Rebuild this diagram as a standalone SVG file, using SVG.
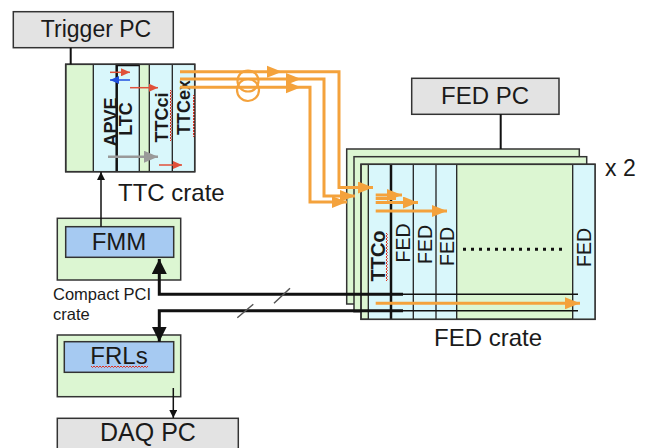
<svg xmlns="http://www.w3.org/2000/svg" width="651" height="448" viewBox="0 0 651 448">
<style>
.box{stroke:#333;stroke-width:1.5}
.pc{fill:#e3e3e3}
.gr{fill:#dcf6d2}
.cy{fill:#d9f7fb}
.bl{fill:#a6caf2}
.ln{stroke:#222;stroke-width:1.3;fill:none}
.t{font-family:"Liberation Sans",Arial,sans-serif;fill:#1a1a1a}
.b{font-weight:bold}
.or{fill:none;stroke:#f4a23c;stroke-width:3}
.orh{fill:#f4a23c}
.k{fill:none;stroke:#111;stroke-width:3}
.kt{fill:none;stroke:#111;stroke-width:1.5}
.sq{fill:none;stroke:#e03020;stroke-width:1}
</style>
<defs>
<marker id="ka" markerUnits="userSpaceOnUse" markerWidth="8" markerHeight="8" refX="8" refY="4" orient="auto"><path d="M0,0 L8,4 L0,8 z" fill="#111"/></marker>
<marker id="ra" markerUnits="userSpaceOnUse" markerWidth="9" markerHeight="8" refX="9" refY="4" orient="auto"><path d="M0,0 L9,4 L0,8 z" fill="#e0503a"/></marker>
<marker id="ba" markerUnits="userSpaceOnUse" markerWidth="9" markerHeight="8" refX="9" refY="4" orient="auto"><path d="M0,0 L9,4 L0,8 z" fill="#2050e0"/></marker>
<marker id="ga" markerUnits="userSpaceOnUse" markerWidth="14" markerHeight="12" refX="14" refY="6" orient="auto"><path d="M0,0 L14,6 L0,12 z" fill="#999"/></marker>
<marker id="oa" markerUnits="userSpaceOnUse" markerWidth="15" markerHeight="12" refX="15" refY="6" orient="auto"><path d="M0,0 L15,6 L0,12 z" fill="#f4a23c"/></marker>
<marker id="kb" markerUnits="userSpaceOnUse" markerWidth="15" markerHeight="15" refX="15" refY="7.5" orient="auto"><path d="M0,0 L15,7.5 L0,15 z" fill="#111"/></marker>
</defs>
<rect width="651" height="448" fill="#fff"/>

<g id="trigger-pc">
<rect class="box pc" x="13.3" y="11.7" width="160" height="36"/>
<text class="t" x="96" y="37" font-size="23" text-anchor="middle">Trigger PC</text>
</g>

<g id="ttc-crate">
<rect class="box gr" x="65.7" y="64.3" width="129" height="107.4"/>
<rect class="cy" x="93.3" y="65" width="23.4" height="106"/>
<rect class="cy" x="116.7" y="65" width="22.6" height="106"/>
<rect class="cy" x="149.3" y="65" width="23" height="106"/>
<rect class="cy" x="172.3" y="65" width="22.4" height="106"/>
<path class="ln" d="M93.3,64.3V171.7 M139.3,64.3V171.7 M149.3,64.3V171.7 M172.3,64.3V171.7"/>
<path fill="none" stroke="#111" stroke-width="2.5" d="M116.7,171.7V65 H139.3"/>
<rect class="box" fill="none" x="65.7" y="64.3" width="129" height="107.4"/>
<text class="t b" font-size="18" text-anchor="middle" transform="translate(117,122) rotate(-90)">APVE</text>
<text class="t b" font-size="18" text-anchor="middle" transform="translate(131.5,119) rotate(-90)">LTC</text>
<text class="t b" font-size="18" text-anchor="middle" transform="translate(168,117.5) rotate(-90)">TTCci</text>
<text class="t b" font-size="18" text-anchor="middle" transform="translate(189.5,107.5) rotate(-90)">TTCex</text>
<path class="sq" d="M170,90 l1.5,1.5 -1.5,1.5 1.5,1.5 -1.5,1.5 1.5,1.5 -1.5,1.5 1.5,1.5 -1.5,1.5 1.5,1.5 -1.5,1.5 1.5,1.5 -1.5,1.5 1.5,1.5 -1.5,1.5 1.5,1.5 -1.5,1.5 1.5,1.5 -1.5,1.5 1.5,1.5 -1.5,1.5 1.5,1.5 -1.5,1.5 1.5,1.5 -1.5,1.5 1.5,1.5 -1.5,1.5 1.5,1.5 -1.5,1.5 1.5,1.5 -1.5,1.5 1.5,1.5 -1.5,1.5 1.5,1.5 -1.5,1.5"/>
<path class="sq" d="M193,95 l1.5,1.5 -1.5,1.5 1.5,1.5 -1.5,1.5 1.5,1.5 -1.5,1.5 1.5,1.5 -1.5,1.5 1.5,1.5 -1.5,1.5 1.5,1.5 -1.5,1.5 1.5,1.5 -1.5,1.5 1.5,1.5 -1.5,1.5 1.5,1.5 -1.5,1.5 1.5,1.5 -1.5,1.5 1.5,1.5 -1.5,1.5 1.5,1.5 -1.5,1.5 1.5,1.5 -1.5,1.5 1.5,1.5 -1.5,1.5"/>
<path fill="none" stroke="#e0503a" stroke-width="1.5" marker-end="url(#ra)" d="M110,72.3H130"/>
<path fill="none" stroke="#2050e0" stroke-width="1.5" marker-end="url(#ba)" d="M130,80H110"/>
<path fill="none" stroke="#e0503a" stroke-width="1.5" marker-end="url(#ra)" d="M130,87.7H158"/>
<path fill="none" stroke="#999" stroke-width="2.5" marker-end="url(#ga)" d="M108,156.7H158"/>
<path fill="none" stroke="#e0503a" stroke-width="1.5" marker-end="url(#ra)" d="M159,165H182"/>
<text class="t" x="118" y="201" font-size="24">TTC crate</text>
</g>

<g id="fmm">
<rect class="box gr" x="57.3" y="218.3" width="123.4" height="61.7"/>
<rect class="box bl" x="65.7" y="226.7" width="108" height="30.6"/>
<text class="t" x="119" y="250" font-size="24" text-anchor="middle">FMM</text>
<text class="t" x="53" y="300" font-size="16.5">Compact PCI</text>
<text class="t" x="53" y="319.5" font-size="16.5">crate</text>
</g>

<g id="frls">
<rect class="box gr" x="57.3" y="335" width="123.4" height="61.7"/>
<rect class="box bl" x="64.3" y="341.7" width="109.4" height="30.6"/>
<text class="t" x="119" y="363.5" font-size="24" text-anchor="middle">FRLs</text>
<path class="sq" d="M91,366 l1.5,1.5 1.5,-1.5 1.5,1.5 1.5,-1.5 1.5,1.5 1.5,-1.5 1.5,1.5 1.5,-1.5 1.5,1.5 1.5,-1.5 1.5,1.5 1.5,-1.5 1.5,1.5 1.5,-1.5 1.5,1.5 1.5,-1.5 1.5,1.5 1.5,-1.5 1.5,1.5 1.5,-1.5 1.5,1.5 1.5,-1.5 1.5,1.5 1.5,-1.5 1.5,1.5 1.5,-1.5 1.5,1.5 1.5,-1.5 1.5,1.5 1.5,-1.5 1.5,1.5 1.5,-1.5 1.5,1.5 1.5,-1.5 1.5,1.5 1.5,-1.5 1.5,1.5 1.5,-1.5"/>
</g>

<g id="daq-pc">
<rect class="box pc" x="57.3" y="418.3" width="181" height="40"/>
<text class="t" x="148" y="441" font-size="25" text-anchor="middle">DAQ PC</text>
</g>

<g id="fed-pc">
<rect class="box pc" x="411.7" y="78.3" width="147.3" height="36"/>
<text class="t" x="485" y="104.3" font-size="24" text-anchor="middle">FED PC</text>
</g>

<g id="fed-crate">
<rect class="box gr" x="346.7" y="149" width="232.6" height="155"/>
<rect class="box gr" x="354" y="156.7" width="232.7" height="155"/>
<rect class="box gr" x="361" y="164.3" width="234" height="155"/>
<rect class="cy" x="368.3" y="165" width="22.7" height="153.6"/>
<rect class="cy" x="391" y="165" width="22.3" height="153.6"/>
<rect class="cy" x="413.3" y="165" width="22.7" height="153.6"/>
<rect class="cy" x="436" y="165" width="20.7" height="153.6"/>
<rect class="cy" x="572.7" y="165" width="22.3" height="153.6"/>
<path class="ln" d="M368.3,164.3V319.3 M413.3,164.3V319.3 M436,164.3V319.3 M456.7,164.3V319.3 M572.7,164.3V319.3"/>
<path fill="none" stroke="#111" stroke-width="2.5" d="M391,164.3V319.3"/>
<rect class="box" fill="none" x="361" y="164.3" width="234" height="155"/>
<text class="t b" font-size="20" text-anchor="middle" transform="translate(385,256) rotate(-90)">TTCo</text>
<path class="sq" d="M386,233 l1.5,1.5 -1.5,1.5 1.5,1.5 -1.5,1.5 1.5,1.5 -1.5,1.5 1.5,1.5 -1.5,1.5 1.5,1.5 -1.5,1.5 1.5,1.5 -1.5,1.5 1.5,1.5 -1.5,1.5 1.5,1.5 -1.5,1.5 1.5,1.5 -1.5,1.5 1.5,1.5 -1.5,1.5 1.5,1.5 -1.5,1.5 1.5,1.5 -1.5,1.5 1.5,1.5 -1.5,1.5 1.5,1.5 -1.5,1.5 1.5,1.5 -1.5,1.5 1.5,1.5 -1.5,1.5"/>
<text class="t" font-size="19.5" text-anchor="middle" transform="translate(410,243) rotate(-90)">FED</text>
<text class="t" font-size="19.5" text-anchor="middle" transform="translate(432,244.5) rotate(-90)">FED</text>
<text class="t" font-size="19.5" text-anchor="middle" transform="translate(454,246.5) rotate(-90)">FED</text>
<text class="t" font-size="19.5" text-anchor="middle" transform="translate(591,247.5) rotate(-90)">FED</text>
<path fill="none" stroke="#111" stroke-width="3" stroke-dasharray="3,5" d="M463,249.3H566"/>
<text class="t" x="605" y="176" font-size="23">x 2</text>
<text class="t" x="488" y="346" font-size="24" text-anchor="middle">FED crate</text>
</g>

<g id="connectors">
<path fill="none" stroke="#111" stroke-width="2" d="M70.7,47.7V64.3 M500.7,114.3V149"/>
<path class="kt" marker-end="url(#ka)" d="M101,226.7V172"/>
<path class="kt" marker-end="url(#ka)" d="M173.3,388V418"/>
<path class="k" marker-end="url(#kb)" d="M403,294.3H159.3V259"/>
<path class="k" marker-end="url(#kb)" d="M403,310.7H159.3V341.7"/>
<path class="kt" d="M403,294.3H578 M403,310.7H578"/>
<path fill="none" stroke="#555" stroke-width="1.5" d="M274,303.3L290,288.3 M237.3,317.7L253.3,304.3"/>
<path class="or" marker-end="url(#oa)" d="M180,71.7H339V187.5H373"/>
<path class="or" marker-end="url(#oa)" d="M180,79H324V196H355"/>
<path class="or" marker-end="url(#oa)" d="M180,87.3H310V202H347"/>
<polygon class="orh" points="267,65.7 282,71.7 267,77.7"/>
<polygon class="orh" points="286,73 301,79 286,85"/>
<polygon class="orh" points="286,81.3 301,87.3 286,93.3"/>
<circle cx="248" cy="81" r="10.5" fill="none" stroke="#f4a23c" stroke-width="2.2"/>
<circle cx="248" cy="90" r="11" fill="none" stroke="#f4a23c" stroke-width="2.2"/>
<path class="or" marker-end="url(#oa)" d="M375.7,195H402"/>
<path class="or" d="M375.7,198.5H396"/>
<path class="or" marker-end="url(#oa)" d="M375.7,202.5H418"/>
<path class="or" marker-end="url(#oa)" d="M375.7,211H447"/>
<path class="or" marker-end="url(#oa)" d="M375.7,303.3H580"/>
</g>
</svg>
